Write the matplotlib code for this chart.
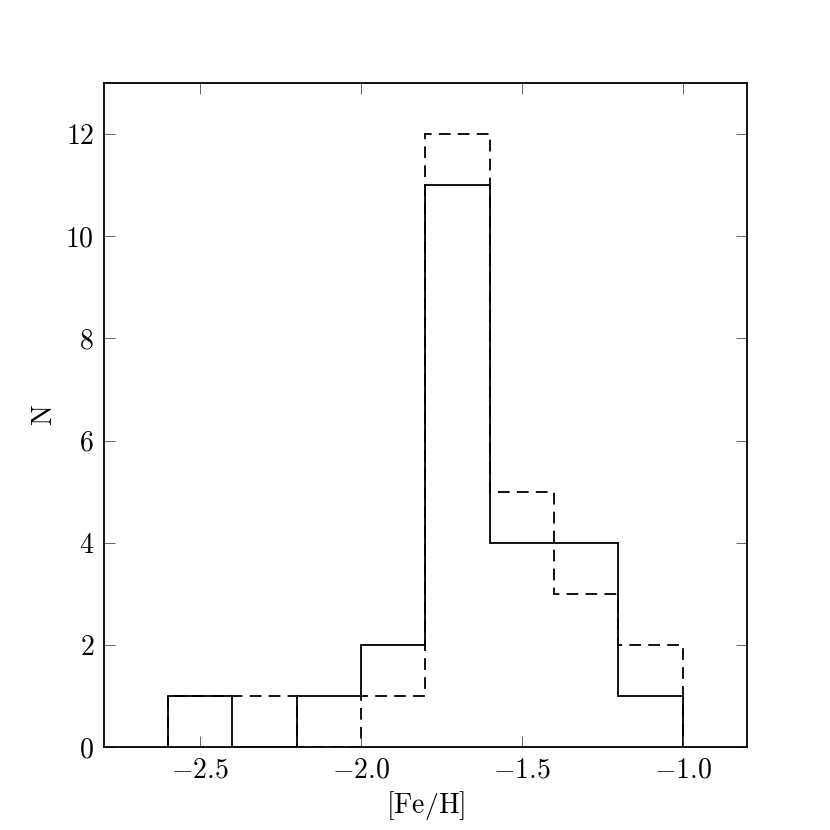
# Metallicity distribution: two step histograms of [Fe/H]
import numpy as np
import matplotlib.pyplot as plt

plt.rcParams['mathtext.fontset'] = 'cm'
plt.rcParams['font.family'] = 'serif'
plt.rcParams['font.serif'] = ['cmr10', 'DejaVu Serif']
plt.rcParams['axes.formatter.use_mathtext'] = True

# bin edges and counts
bin_edges = [-2.6, -2.4, -2.2, -2.0, -1.8, -1.6, -1.4, -1.2, -1.0]
counts_solid = [1, 0, 1, 2, 11, 4, 4, 1]
counts_dashed = [1, 1, 0, 1, 12, 5, 3, 2]

x_ticks = [-2.5, -2.0, -1.5, -1.0]
y_ticks = [0, 2, 4, 6, 8, 10, 12]

fig = plt.figure(figsize=(8.3, 8.3), dpi=100)
ax = fig.add_axes([0.125, 0.1, 0.775, 0.8])

ax.stairs(counts_dashed, bin_edges, color="black", lw=1.3, linestyle=(0, (6.5, 4)))
ax.stairs(counts_solid, bin_edges, color="black", lw=1.3)

ax.set_xlim(-2.8, -0.8)
ax.set_ylim(0, 13)
ax.set_xticks(x_ticks)
ax.set_xticklabels([r"$%.1f$" % t if t >= 0 else r"$-%.1f$" % abs(t) for t in x_ticks])
ax.set_yticks(y_ticks)
ax.set_yticklabels([r"$%d$" % t for t in y_ticks])
ax.tick_params(direction="in", top=True, right=True, length=8, width=0.6,
               color="0.3", labelsize=20, pad=7)
for s in ax.spines.values():
    s.set_linewidth(1.3)

ax.set_xlabel(r"$\mathrm{[Fe/H]}$", fontsize=20, labelpad=4)
ax.set_ylabel(r"$\mathrm{N}$", fontsize=20, labelpad=5)

fig.savefig("out.png", dpi=100)
